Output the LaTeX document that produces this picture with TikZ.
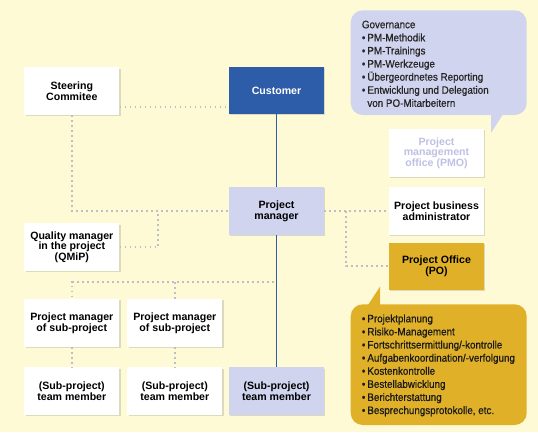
\documentclass[tikz,border=0pt]{standalone}
\usepackage{fontspec}
\setmainfont{Liberation Sans}
\newfontfamily\condfont[FakeStretch=0.91,FakeBold=0.6]{Liberation Sans}
\usetikzlibrary{shadows,calc}
\definecolor{bgyellow}{RGB}{254,250,214}
\definecolor{custblue}{RGB}{45,93,168}
\definecolor{lav}{RGB}{208,212,238}
\definecolor{gold}{RGB}{224,177,40}
\definecolor{dotgray}{RGB}{190,190,198}
\definecolor{pmotext}{RGB}{190,193,228}
\newcommand{\bulitem}{\makebox[5.5pt][l]{•}}
\tikzset{
 box/.style={rectangle, minimum width=95pt, minimum height=47.5pt, inner sep=1pt, align=center,
   font=\fontsize{10.6}{10.6}\selectfont\bfseries, fill=white,
   drop shadow={shadow xshift=1.2pt, shadow yshift=-1.2pt, opacity=0.22, fill=black!60}},
 dotline/.style={draw=dotgray, line width=1.8pt, dash pattern=on 1.8pt off 3.2pt},
 blueline/.style={draw=custblue, line width=1.7pt},
 bubtext/.style={anchor=north west, inner sep=0pt, align=left, font=\condfont\fontsize{10.8}{13.1}\selectfont},
}
\begin{document}
\begin{tikzpicture}[x=1pt,y=-1pt]
\fill[bgyellow] (0,0) rectangle (538,432);
\useasboundingbox (0,0) rectangle (538,432);

% bubbles
\fill[lav, rounded corners=12pt] (350.7,10.3) rectangle (526.7,115);
\fill[lav] (491,111) -- (505,111) -- (491,133) -- cycle;
\node[bubtext, text=black!85] (govtext) at (361.7,20.5) {Governance\\
\bulitem PM-Methodik\\
\bulitem PM-Trainings\\
\bulitem PM-Werkzeuge\\
\bulitem Übergeordnetes Reporting\\
\bulitem Entwicklung und Delegation\\
\hspace*{5.5pt}von PO-Mitarbeitern};

\fill[gold, rounded corners=12pt] (350.7,304.3) rectangle (526.7,425);
\fill[gold] (366,308) -- (380,286.7) -- (380,308) -- cycle;
\node[bubtext, text=black!90] (potext) at (361.7,314.3) {\bulitem Projektplanung\\
\bulitem Risiko-Management\\
\bulitem Fortschrittsermittlung/-kontrolle\\
\bulitem Aufgabenkoordination/-verfolgung\\
\bulitem Kostenkontrolle\\
\bulitem Bestellabwicklung\\
\bulitem Berichterstattung\\
\bulitem Besprechungsprotokolle, etc.};

% junction coordinates
\coordinate (j1) at (158.3,211);
\coordinate (j2) at (346,211);
\coordinate (j3) at (273.5,282.3);
\coordinate (sc) at (0,106.7);

% boxes
\node[box] (steer) at (71.8,91.2) {Steering\\Commitee};
\node[box, fill=custblue, text=white] (cust) at (276.5,90.4) {Customer};
\node[box, text=pmotext] (pmo) at (436.5,153) {Project\\management\\office (PMO)};
\node[box, fill=lav] (pm) at (276.5,211) {Project\\manager};
\node[box] (pba) at (436.5,211) {Project business\\administrator};
\node[box] (qm) at (71.8,247.2) {Quality manager\\in the project\\(QMiP)};
\node[box, fill=gold] (po) at (436.5,266.3) {Project Office\\(PO)};
\node[box] (spm1) at (71.8,323) {Project manager\\of sub-project};
\node[box] (spm2) at (174.8,323) {Project manager\\of sub-project};
\node[box] (tm1) at (71.8,391.2) {(Sub-project)\\team member};
\node[box] (tm2) at (174.8,391.2) {(Sub-project)\\team member};
\node[box, fill=lav] (tm3) at (276.5,391.2) {(Sub-project)\\team member};

% connectors
\draw[blueline] (cust.south) -- (pm.north);
\draw[blueline] (pm.south) -- (tm3.north);
\draw[dotline] (steer.east |- sc) -- (cust.west |- sc);
\draw[dotline] (steer.south) |- (pm.west);
\draw[dotline] (qm.east) -| (j1);
\draw[dotline] (pm.east) -- (pm.east -| pba.west);
\draw[dotline] (j2) |- (po.west);
\draw[dotline] (j3) -| (spm1.north);
\draw[dotline] (spm2.north |- j3) -- (spm2.north);
\draw[dotline] (spm1.south) -- (tm1.north);
\draw[dotline] (spm2.south) -- (tm2.north);
\end{tikzpicture}
\end{document}
